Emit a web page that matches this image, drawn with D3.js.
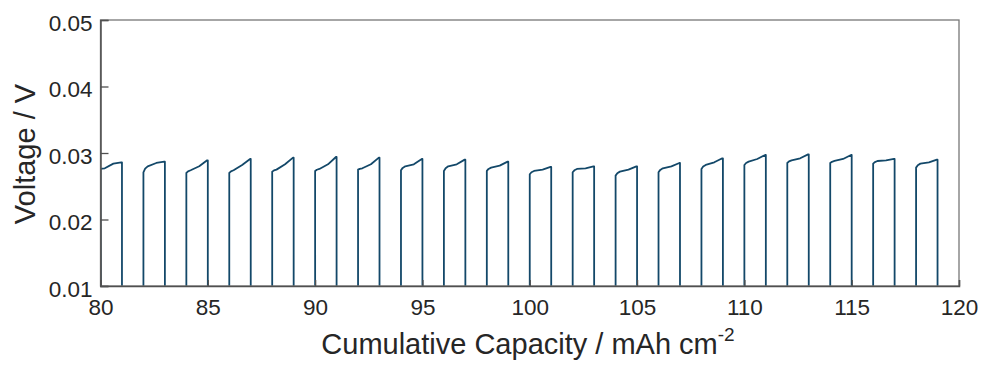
<!DOCTYPE html>
<html>
<head>
<meta charset="utf-8">
<script src="https://cdn.jsdelivr.net/npm/d3@7"></script>
<style>
  body { margin: 0; background: #fff; }
  svg { display: block; font-family: "Liberation Sans", Arial, sans-serif; }
</style>
</head>
<body>
<div id="chart"></div>
<script>
// cycle start (cumulative capacity, mAh cm^-2)
const cycleStart = [80, 82, 84, 86, 88, 90, 92, 94, 96, 98, 100, 102, 104, 106, 108, 110, 112, 114, 116, 118];
// voltage at the start, after the knee, mid-step and end of each stripping step (V)
const vStart = [0.0276, 0.0271, 0.0270, 0.0270, 0.0272, 0.0273, 0.0275, 0.0274, 0.0273, 0.0273, 0.0268, 0.0271, 0.0266, 0.0271, 0.0276, 0.0282, 0.0285, 0.0285, 0.0284, 0.0278];
const vKnee  = [0.0277, 0.0280, 0.0274, 0.0274, 0.0275, 0.0276, 0.0277, 0.0280, 0.0280, 0.0278, 0.0273, 0.0276, 0.0272, 0.0277, 0.0282, 0.0287, 0.0289, 0.0288, 0.0288, 0.0284];
const vMid   = [0.0284, 0.0285, 0.0280, 0.0282, 0.0283, 0.0283, 0.0283, 0.0283, 0.0283, 0.0281, 0.0275, 0.0277, 0.0275, 0.0280, 0.0286, 0.0291, 0.0292, 0.0291, 0.0289, 0.0286];
const vEnd   = [0.0286, 0.0287, 0.0289, 0.0291, 0.0293, 0.0294, 0.0293, 0.0291, 0.0290, 0.0287, 0.0279, 0.0280, 0.0280, 0.0285, 0.0292, 0.0297, 0.0298, 0.0297, 0.0291, 0.0290];
const stepLength = 1;       // mAh cm^-2 per half cycle
const plateVoltage = -0.02; // plating half cycle, off the bottom of the plot

const xTicks = [80, 85, 90, 95, 100, 105, 110, 115, 120];
const yTicks = [0.01, 0.02, 0.03, 0.04, 0.05];

const width = 984, height = 370;
const margin = { top: 20, right: 25, bottom: 84, left: 100.5 };
const innerW = width - margin.left - margin.right;
const innerH = height - margin.top - margin.bottom;

const svg = d3.select("#chart").append("svg")
  .attr("width", width)
  .attr("height", height);

const g = svg.append("g")
  .attr("transform", "translate(" + margin.left + "," + margin.top + ")");

const x = d3.scaleLinear().domain([80, 120]).range([0, innerW]);
const y = d3.scaleLinear().domain([0.01, 0.05]).range([innerH, 0]);

// build the voltage trace
const trace = [{ x: 80.06, v: plateVoltage }, { x: 80.0, v: 0.021 }];
cycleStart.forEach((x0, i) => {
  if (i > 0) trace.push({ x: x0, v: plateVoltage });
  trace.push({ x: x0, v: vStart[i] });
  trace.push({ x: x0 + 0.08 * stepLength, v: vStart[i] + (vKnee[i] - vStart[i]) * 0.6 });
  trace.push({ x: x0 + 0.2 * stepLength, v: vKnee[i] });
  trace.push({ x: x0 + 0.6 * stepLength, v: vMid[i] });
  trace.push({ x: x0 + 0.97 * stepLength, v: vEnd[i] });
  trace.push({ x: x0 + stepLength, v: vEnd[i] });
  trace.push({ x: x0 + stepLength, v: plateVoltage });
});

svg.append("defs").append("clipPath").attr("id", "plotClip")
  .append("rect").attr("width", innerW).attr("height", innerH);

g.append("g").attr("clip-path", "url(#plotClip)")
  .append("path")
  .datum(trace)
  .attr("fill", "none")
  .attr("stroke", "#134869")
  .attr("stroke-width", 1.8)
  .attr("stroke-linejoin", "round")
  .attr("d", d3.line().x(d => x(d.x)).y(d => y(d.v)));

// box
g.append("rect")
  .attr("width", innerW).attr("height", innerH)
  .attr("fill", "none")
  .attr("stroke", "#777")
  .attr("stroke-width", 1.3);

// axes with inward ticks
const xAxis = g.append("g")
  .attr("transform", "translate(0," + innerH + ")")
  .call(d3.axisBottom(x).tickValues(xTicks).tickSize(-6).tickPadding(13).tickFormat(d3.format("d")));
const yAxis = g.append("g")
  .call(d3.axisLeft(y).tickValues(yTicks).tickSize(-8).tickPadding(8).tickFormat(d3.format(".2f")));

[xAxis, yAxis].forEach(a => {
  a.select(".domain").attr("stroke", "#505050").attr("stroke-width", 1.5);
  a.selectAll(".tick line").attr("stroke", "#505050").attr("stroke-width", 1.3);
  a.selectAll(".tick text")
    .attr("fill", "#262626")
    .style("font-size", "22.5px")
    .style("font-family", "'Liberation Sans', Arial, sans-serif");
});
yAxis.selectAll(".tick text").attr("dy", "0.45em");

// axis titles
svg.append("text")
  .attr("transform", "translate(35," + (margin.top + innerH / 2 + 1) + ") rotate(-90)")
  .attr("text-anchor", "middle")
  .attr("fill", "#262626")
  .style("font-size", "29px")
  .text("Voltage / V");

const xt = svg.append("text")
  .attr("x", 528)
  .attr("y", 354)
  .attr("text-anchor", "middle")
  .attr("fill", "#262626")
  .style("font-size", "29px");
xt.append("tspan").text("Cumulative Capacity / mAh cm");
xt.append("tspan").attr("dy", -13).style("font-size", "19px").text("-2");
</script>
</body>
</html>
